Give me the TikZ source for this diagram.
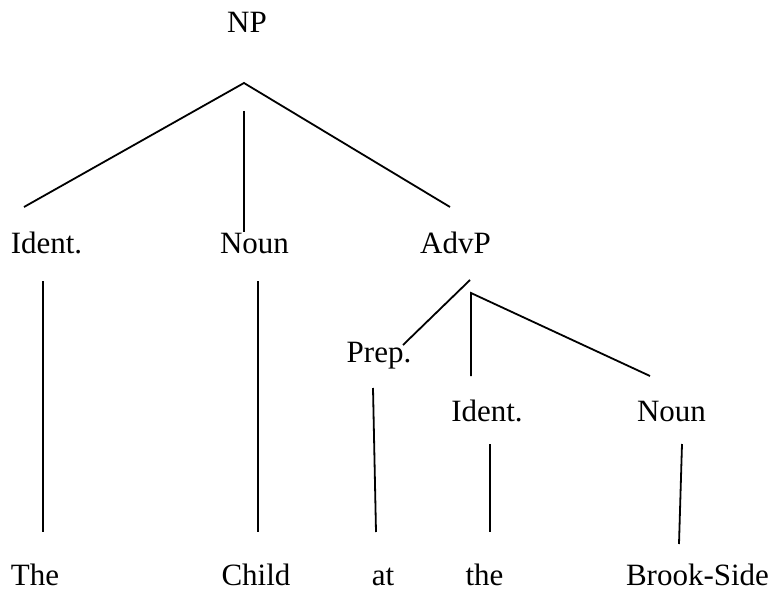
\documentclass[tikz,border=0pt]{standalone}
\usepackage{fontspec}
\setmainfont{Liberation Serif}
\begin{document}
\begin{tikzpicture}[x=1pt,y=-1pt,
  lbl/.style={anchor=base,inner sep=0pt,text depth=0pt,font=\fontsize{31}{37}\selectfont},
  branch/.style={line width=1.8pt,line cap=butt}]
\useasboundingbox (0,0) rectangle (774,591);

% category labels
\node[lbl] (np)     at (247,33)   {NP};
\node[lbl] (ident)  at (46.5,253) {Ident.};
\node[lbl] (noun)   at (254.5,253){Noun};
\node[lbl] (advp)   at (455.5,253){AdvP};
\node[lbl] (prep)   at (379,362)  {Prep.};
\node[lbl] (identb) at (487,421)  {Ident.};
\node[lbl] (nounb)  at (671.5,421){Noun};

% words
\node[lbl] (the)   at (35,585)    {The};
\node[lbl] (child) at (256,585)   {Child};
\node[lbl] (at)    at (383,585)   {at};
\node[lbl] (theb)  at (484.5,585) {the};
\node[lbl] (brook) at (697.5,585) {Brook-Side};

% branch end points
\coordinate (np-top)    at (244,83);
\coordinate (np-mid)    at (244,111);
\coordinate (ident-up)  at (24,207);
\coordinate (noun-up)   at (244,232);
\coordinate (advp-up)   at (450,207);
\coordinate (ident-dn)  at (43,281);
\coordinate (the-up)    at (43,532);
\coordinate (noun-dn)   at (258,281);
\coordinate (child-up)  at (258,532);
\coordinate (advp-dn)   at (470,280);
\coordinate (advp-fork) at (471,293);
\coordinate (prep-up)   at (403,345);
\coordinate (identb-up) at (471,376);
\coordinate (nounb-up)  at (650,376);
\coordinate (prep-dn)   at (373,388);
\coordinate (at-up)     at (376,532);
\coordinate (identb-dn) at (490,444);
\coordinate (theb-up)   at (490,532);
\coordinate (nounb-dn)  at (682,444);
\coordinate (brook-up)  at (679,544);

% NP
\draw[branch] (ident-up) -- (np-top) -- (advp-up);
\draw[branch] (np-mid) -- (noun-up);
% AdvP
\draw[branch] (advp-dn) -- (prep-up);
\draw[branch] (identb-up) -- (advp-fork) -- (nounb-up);
% terminals
\draw[branch] (ident-dn) -- (the-up);
\draw[branch] (noun-dn) -- (child-up);
\draw[branch] (prep-dn) -- (at-up);
\draw[branch] (identb-dn) -- (theb-up);
\draw[branch] (nounb-dn) -- (brook-up);
\end{tikzpicture}
\end{document}
